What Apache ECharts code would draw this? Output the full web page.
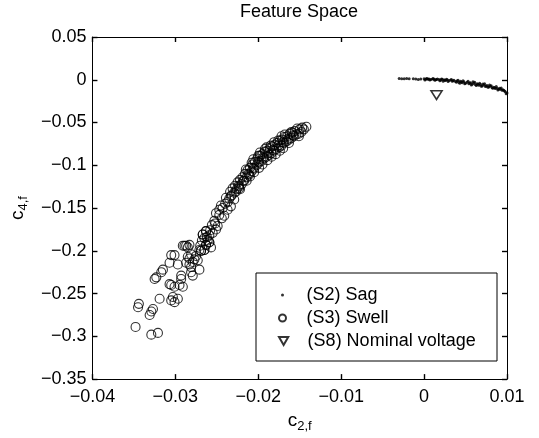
<!DOCTYPE html>
<html>
<head>
<meta charset="utf-8">
<script src="https://cdn.jsdelivr.net/npm/echarts@6/dist/echarts.min.js"></script>
<style>
html,body{margin:0;padding:0;background:#fff;}
#chart{width:539px;height:438px;}
</style>
</head>
<body>
<div id="chart"></div>
<script>
// ---- data ----
var titleText = 'Feature Space';
var seriesNames = ['(S2) Sag', '(S3) Swell', '(S8) Nominal voltage'];
var xTicks = {min: -0.04, max: 0.01, interval: 0.01};
var yTicks = {min: -0.35, max: 0.05, interval: 0.05};

var sagPoints = [
  [-0.0030,0.0014],[-0.0027,0.0012],[-0.0024,0.0013],[-0.0018,0.0011],[-0.0013,0.0012],[-0.0010,0.0008],
  [-0.0004,0.0010],[0.0000,0.0012],[0.0002,0.0005],[0.0004,0.0011],[0.0006,0.0008],[0.0008,0.0003],
  [0.0010,0.0010],[0.0012,0.0006],[0.0014,0.0001],[0.0016,0.0008],[0.0018,0.0003],[0.0020,-0.0004],
  [0.0022,0.0005],[0.0024,-0.0002],[0.0026,-0.0008],[0.0028,0.0001],[0.0030,-0.0010],[0.0032,-0.0004],
  [0.0034,-0.0016],[0.0036,-0.0006],[0.0038,-0.0020],[0.0040,-0.0012],[0.0042,-0.0028],[0.0044,-0.0018],
  [0.0046,-0.0034],[0.0048,-0.0022],[0.0050,-0.0040],[0.0052,-0.0028],[0.0054,-0.0046],[0.0056,-0.0034],
  [0.0058,-0.0052],[0.0060,-0.0040],[0.0062,-0.0058],[0.0064,-0.0047],[0.0066,-0.0064],[0.0068,-0.0054],
  [0.0070,-0.0072],[0.0072,-0.0060],[0.0074,-0.0078],[0.0076,-0.0068],[0.0078,-0.0084],[0.0080,-0.0076],
  [0.0082,-0.0094],[0.0084,-0.0088],[0.0086,-0.0102],[0.0088,-0.0098],[0.0090,-0.0112],[0.0092,-0.0110],
  [0.0094,-0.0124],[0.0096,-0.0122],[0.0098,-0.0140],[0.0100,-0.0155],[0.0099,-0.0165],
  [0.0015,0.0004],[0.0025,-0.0003],[0.0035,-0.0011],[0.0045,-0.0026],[0.0055,-0.0038],[0.0065,-0.0052],
  [0.0075,-0.0072],[0.0085,-0.0094],[0.0095,-0.0118],[0.0005,0.0007],[0.0041,-0.0006],[0.0061,-0.0030],
  [0.0071,-0.0050],[0.0081,-0.0070],[0.0091,-0.0100],[0.0097,-0.0132],
  [0.0001,-0.0002],[0.0007,-0.0003],[0.0013,-0.0006],[0.0019,-0.0012],[0.0023,-0.0016],[0.0029,-0.0020],
  [0.0033,0.0002],[0.0039,-0.0030],[0.0043,-0.0040],[0.0047,-0.0012],[0.0049,-0.0046],[0.0053,-0.0018],
  [0.0057,-0.0060],[0.0059,-0.0024],[0.0063,-0.0068],[0.0067,-0.0040],[0.0069,-0.0076],[0.0073,-0.0046],
  [0.0077,-0.0088],[0.0079,-0.0060],[0.0083,-0.0100],[0.0087,-0.0080],[0.0089,-0.0120],[0.0093,-0.0096],
  [-0.0021,0.0016],[-0.0007,0.0004],[0.0003,0.0016],[0.0011,0.0014],[0.0021,0.0010],[0.0027,0.0006]
];

var swellPoints = [
  [-0.0142,-0.055],[-0.0145,-0.058],[-0.0147,-0.056],[-0.0148,-0.061],[-0.0150,-0.058],[-0.0151,-0.063],
  [-0.0153,-0.057],[-0.0154,-0.064],[-0.0156,-0.060],[-0.0157,-0.066],[-0.0159,-0.062],[-0.0160,-0.068],
  [-0.0158,-0.065],[-0.0162,-0.063],[-0.0163,-0.070],[-0.0165,-0.066],[-0.0166,-0.072],[-0.0164,-0.069],
  [-0.0168,-0.067],[-0.0169,-0.074],[-0.0171,-0.070],[-0.0172,-0.077],[-0.0170,-0.073],[-0.0174,-0.071],
  [-0.0175,-0.079],[-0.0177,-0.074],[-0.0178,-0.081],[-0.0176,-0.077],[-0.0180,-0.076],[-0.0181,-0.083],
  [-0.0183,-0.078],[-0.0184,-0.086],[-0.0182,-0.082],[-0.0186,-0.080],[-0.0187,-0.088],[-0.0189,-0.083],
  [-0.0190,-0.090],[-0.0188,-0.086],[-0.0192,-0.084],[-0.0193,-0.092],[-0.0195,-0.087],[-0.0196,-0.095],
  [-0.0194,-0.091],[-0.0198,-0.089],[-0.0199,-0.097],[-0.0201,-0.092],[-0.0202,-0.100],[-0.0200,-0.096],
  [-0.0204,-0.096],[-0.0205,-0.104],[-0.0207,-0.099],[-0.0208,-0.107],[-0.0206,-0.103],[-0.0210,-0.103],
  [-0.0211,-0.111],[-0.0213,-0.106],[-0.0214,-0.114],[-0.0212,-0.110],[-0.0216,-0.110],[-0.0217,-0.118],
  [-0.0219,-0.114],[-0.0220,-0.122],[-0.0218,-0.118],[-0.0222,-0.117],[-0.0223,-0.125],[-0.0225,-0.120],
  [-0.0226,-0.128],[-0.0224,-0.124],[-0.0228,-0.124],[-0.0229,-0.132],[-0.0231,-0.127],[-0.0232,-0.135],
  [-0.0234,-0.131],[-0.0235,-0.139],
  [-0.0160,-0.061],[-0.0168,-0.064],[-0.0176,-0.071],[-0.0185,-0.077],[-0.0192,-0.081],[-0.0200,-0.089],
  [-0.0208,-0.097],[-0.0215,-0.105],[-0.0151,-0.066],[-0.0163,-0.074],[-0.0174,-0.083],[-0.0184,-0.090],
  [-0.0195,-0.099],[-0.0205,-0.108],[-0.0214,-0.118],[-0.0222,-0.128],
  [-0.0172,-0.066],[-0.0181,-0.073],[-0.0190,-0.079],[-0.0198,-0.085],[-0.0206,-0.093],[-0.0170,-0.080],
  [-0.0179,-0.087],[-0.0189,-0.094],[-0.0199,-0.103],[-0.0210,-0.113],
  [-0.0239,-0.138],[-0.0233,-0.136],[-0.0227,-0.131],[-0.0223,-0.127],[-0.0229,-0.140],[-0.0237,-0.143],
  [-0.0251,-0.156],[-0.0247,-0.152],[-0.0243,-0.150],[-0.0237,-0.152],[-0.0233,-0.148],[-0.0241,-0.159],
  [-0.0253,-0.165],[-0.0249,-0.171],[-0.0251,-0.175],[-0.0255,-0.179],[-0.0259,-0.182],[-0.0265,-0.185],
  [-0.0263,-0.177],[-0.0267,-0.181],[-0.0259,-0.190],[-0.0263,-0.193],[-0.0265,-0.199],[-0.0269,-0.200],
  [-0.0245,-0.147],[-0.0240,-0.145],[-0.0247,-0.158],[-0.0244,-0.162],[-0.0256,-0.170],[-0.0252,-0.168],
  [-0.0258,-0.176],[-0.0262,-0.184],[-0.0268,-0.188],[-0.0270,-0.194],[-0.0261,-0.188],
  [-0.0283,-0.209],[-0.0279,-0.213],[-0.0285,-0.207],[-0.0275,-0.206],
  [-0.0291,-0.194],[-0.0301,-0.205],[-0.0257,-0.196],[-0.0271,-0.199],
  [-0.0348,-0.289],[-0.0344,-0.262],[-0.0345,-0.266],[-0.0329,-0.271],[-0.0331,-0.275],[-0.0327,-0.268],
  [-0.0329,-0.298],[-0.0321,-0.296],[-0.0319,-0.256],[-0.0305,-0.258],[-0.0301,-0.260],[-0.0297,-0.256],
  [-0.0303,-0.254],[-0.0307,-0.239],[-0.0305,-0.240],[-0.0301,-0.242],[-0.0295,-0.240],[-0.0291,-0.242],
  [-0.0323,-0.231],[-0.0325,-0.233],[-0.0315,-0.222],[-0.0317,-0.225],[-0.0307,-0.214],[-0.0297,-0.216],
  [-0.0293,-0.229],[-0.0293,-0.233],[-0.0305,-0.205],[-0.0287,-0.194],[-0.0285,-0.196],[-0.0281,-0.204],
  [-0.0277,-0.210],[-0.0287,-0.214],[-0.0283,-0.216],[-0.0281,-0.219],[-0.0273,-0.211],[-0.0271,-0.222],
  [-0.0281,-0.225],[-0.0279,-0.229],[-0.0289,-0.194],[-0.0283,-0.193],[-0.0269,-0.200],[-0.0265,-0.199],
  [-0.0263,-0.193],[-0.0259,-0.190],[-0.0267,-0.181],[-0.0263,-0.177]
];

var nominalPoints = [[0.0015,-0.018]];

// ---- chart ----
var FONT = 'Liberation Sans, Arial, Helvetica, sans-serif';
var triPath = 'path://M0,0 L10,0 L5,8.66 Z';
function fmt(v) {
  var s = String(Math.round(v * 1000) / 1000);
  return s.replace('-', '\u2212');
}
function valueAxis(base, pos, showLabel, extra) {
  var a = {
    type: 'value', position: pos,
    min: base.min, max: base.max, interval: base.interval,
    axisLine: {show: true, onZero: false, lineStyle: {color: '#000', width: 1}},
    axisTick: {show: true, inside: true, length: 5, lineStyle: {color: '#000', width: 1.4}},
    splitLine: {show: false},
    axisLabel: {show: showLabel, color: '#000', fontSize: 18, fontFamily: FONT, formatter: fmt}
  };
  for (var k in extra) a[k] = extra[k];
  return a;
}

var chart = echarts.init(document.getElementById('chart'), null, {renderer: 'canvas'});
var nameRich = {
  a: {fontSize: 19, fontFamily: FONT, color: '#000'},
  b: {fontSize: 13, fontFamily: FONT, color: '#000', padding: [12, 0, 0, 0]}
};
var legendCommon = {
  orient: 'vertical', padding: 0, itemWidth: 38, selectedMode: false,
  textStyle: {color: '#000', fontSize: 18, fontFamily: FONT, lineHeight: 20}
};
function legend(name, left, top, h, icon) {
  var l = {data: [icon ? {name: name, icon: icon} : name], left: left, top: top, itemHeight: h};
  for (var k in legendCommon) l[k] = legendCommon[k];
  return l;
}

chart.setOption({
  animation: false,
  backgroundColor: '#fff',
  title: {text: titleText, left: 299, top: 3, padding: 0, textAlign: 'center',
    textStyle: {color: '#000', fontSize: 18, fontWeight: 'normal', fontFamily: FONT}},
  grid: {left: 91, right: 32, top: 37, bottom: 55, containLabel: false},
  xAxis: [
    valueAxis(xTicks, 'bottom', true, {
      name: '{a|c}{b|2,f}', nameLocation: 'middle', nameGap: 18,
      nameTextStyle: {rich: nameRich},
      axisLabel: {show: true, color: '#000', fontSize: 18, fontFamily: FONT, formatter: fmt, margin: 9}
    }),
    valueAxis(xTicks, 'top', false, {})
  ],
  yAxis: [
    valueAxis(yTicks, 'left', true, {
      name: '{a|c}{b|4,f}', nameLocation: 'middle', nameGap: 58, nameRotate: 90,
      nameTextStyle: {rich: nameRich},
      axisLabel: {show: true, color: '#000', fontSize: 18, fontFamily: FONT, formatter: fmt, margin: 6}
    }),
    valueAxis(yTicks, 'right', false, {})
  ],
  graphic: [{
    type: 'rect', z: 1,
    shape: {x: 256, y: 273, width: 241, height: 88},
    style: {fill: '#fff', stroke: '#000', lineWidth: 1}
  }],
  legend: [
    legend(seriesNames[0], 281, 285, 3),
    legend(seriesNames[1], 278, 308, 7),
    legend(seriesNames[2], 278, 331, 8, triPath)
  ],
  series: [
    {
      name: seriesNames[0], type: 'scatter', data: sagPoints,
      symbol: 'circle', symbolSize: 3,
      itemStyle: {color: '#000'}
    },
    {
      name: seriesNames[1], type: 'scatter', data: swellPoints,
      symbol: 'circle', symbolSize: 9,
      itemStyle: {color: 'rgba(0,0,0,0)', borderColor: '#000', borderWidth: 1.1}
    },
    {
      name: seriesNames[2], type: 'scatter', data: nominalPoints,
      symbol: triPath, symbolSize: [11, 10], symbolKeepAspect: true,
      itemStyle: {color: 'rgba(0,0,0,0)', borderColor: '#000', borderWidth: 1.6}
    }
  ]
});
</script>
</body>
</html>
